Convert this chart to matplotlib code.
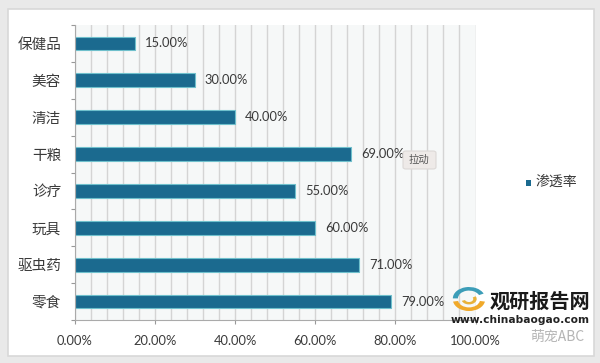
import matplotlib
matplotlib.use('Agg')
import matplotlib.pyplot as plt
from matplotlib.patches import FancyBboxPatch, Rectangle, Wedge
from matplotlib.ticker import MultipleLocator, FuncFormatter

plt.rcParams['font.family'] = ['Noto Sans CJK SC', 'DejaVu Sans']

categories = ['零食', '驱虫药', '玩具', '诊疗', '干粮', '清洁', '美容', '保健品']
values = [79, 71, 60, 55, 69, 40, 30, 15]
series_name = '渗透率'

W, H = 600, 363
fig = plt.figure(figsize=(6, 3.63), dpi=100, facecolor='#e9e9e9')

# white card behind the chart
card = Rectangle((8 / W, 1 - 356 / H), 586 / W, 347 / H, transform=fig.transFigure,
                 facecolor='white', edgecolor='#d8d8d8', lw=1.2, zorder=-1)
fig.add_artist(card)

ax = fig.add_axes([75 / W, 1 - 320 / H, 400.5 / W, 295 / H], facecolor='#f6f8f8')
ax.set_axisbelow(True)
bars = ax.barh(categories, values, height=0.37, color='#1b6a8f', edgecolor='#6fc0cc', lw=0.8)

ax.set_xlim(0, 100)
ax.set_ylim(-0.5, len(categories) - 0.5)

ax.xaxis.set_major_locator(MultipleLocator(20))
ax.xaxis.set_minor_locator(MultipleLocator(4))
ax.xaxis.set_major_formatter(FuncFormatter(lambda v, p: '%.2f%%' % v))
ax.grid(axis='x', which='both', color='#d4d4d4', lw=1)
ax.tick_params(axis='x', which='major', length=3, color='#999999', labelsize=9.3,
               labelcolor='#3a3a3a', pad=8)
ax.tick_params(axis='x', which='minor', length=0)
for t in ax.get_xticklabels():
    t.set_family('Lato')

# category ticks sit between the bars
ax.set_yticks([i - 0.5 for i in range(len(categories) + 1)])
ax.set_yticklabels([''] * (len(categories) + 1))
ax.tick_params(axis='y', which='major', length=3, color='#999999')
ax.set_yticks(range(len(categories)), categories, minor=True)
ax.tick_params(axis='y', which='minor', length=0, labelsize=10.5, labelcolor='#3a3a3a', pad=10)

for s in ['top', 'right']:
    ax.spines[s].set_visible(False)
for s in ['left', 'bottom']:
    ax.spines[s].set_color('#aaaaaa')

for b, v in zip(bars, values):
    ax.annotate('%.2f%%' % v, (v, b.get_y() + b.get_height() / 2), xytext=(7, 0),
                textcoords='offset points', va='center', fontsize=9.3, color='#3a3a3a',
                family='Lato')

# legend
fig.add_artist(Rectangle((525.5 / W, 1 - 185.5 / H), 5.5 / W, 5.5 / H, transform=fig.transFigure,
                         facecolor='#1b6a8f', edgecolor='none'))
fig.text(536 / W, 1 - 182 / H, series_name, fontsize=10, color='#3a3a3a', va='center')

# tooltip
tip = FancyBboxPatch((403 / W, 1 - 169 / H), 33 / W, 18 / H, transform=fig.transFigure,
                     boxstyle='round,pad=0,rounding_size=0.005', facecolor='#eeeae8',
                     edgecolor='#dcd8d6', lw=0.8, zorder=5)
fig.add_artist(tip)
fig.text(419 / W, 1 - 160 / H, '拉动', fontsize=7.5, color='#555555', ha='center', va='center', zorder=6)

# watermark
logo = fig.add_axes([452 / W, 1 - 311 / H, 34 / W, 24 / H], zorder=6)
logo.axis('off')
logo.set_xlim(-1, 1)
logo.set_ylim(-1, 1)
logo.add_patch(Wedge((0, 0.05), 0.95, 25, 180, width=0.3, facecolor='#3c9db8'))
logo.add_patch(Wedge((0, -0.05), 0.95, 190, 350, width=0.3, facecolor='#f0a92a'))
logo.add_patch(Wedge((0, 0), 0.45, 200, 30, width=0.2, facecolor='#e8b23a'))
fig.text(590 / W, 1 - 301 / H, '观研报告网', fontsize=14.5, fontweight='bold', color='#1a1a1a',
         ha='right', va='center', zorder=7)
fig.text(590 / W, 1 - 320 / H, 'www.chinabaogao.com', fontsize=7.7, fontweight='bold',
         color='#222222', ha='right', va='center', family='DejaVu Sans', zorder=7)
fig.text(584 / W, 1 - 337 / H, '萌宠ABC', fontsize=10, color='#b5b5b5', ha='right', va='center', zorder=7)

fig.savefig('out.png', dpi=100, facecolor=fig.get_facecolor())
